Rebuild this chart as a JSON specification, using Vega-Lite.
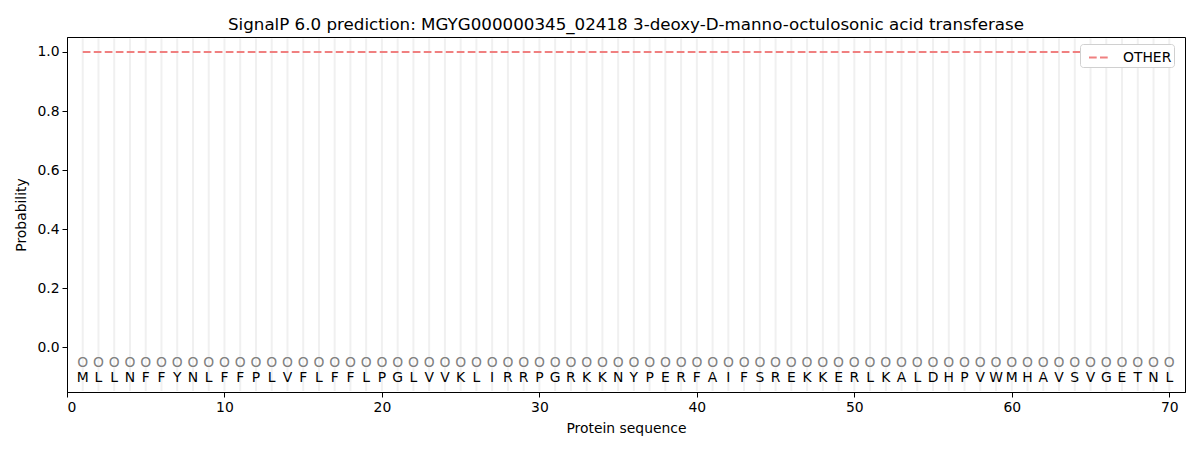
{
  "$schema": "https://vega.github.io/schema/vega-lite/v6.json",
  "autosize": "none",
  "padding": {"left": 67, "top": 37, "right": 15, "bottom": 58},
  "width": 1118,
  "height": 355,
  "background": "white",
  "title": {
    "text": "SignalP 6.0 prediction: MGYG000000345_02418 3-deoxy-D-manno-octulosonic acid transferase",
    "fontSize": 16.7,
    "fontWeight": "normal",
    "font": "DejaVu Sans",
    "color": "black",
    "anchor": "middle",
    "offset": 3
  },
  "config": {
    "view": {"stroke": "black", "strokeWidth": 1},
    "font": "DejaVu Sans",
    "axis": {
      "grid": false,
      "domainColor": "black",
      "tickColor": "black",
      "tickSize": 5,
      "labelFontSize": 13.9,
      "titleFontSize": 13.9,
      "titleFontWeight": "normal",
      "labelColor": "black",
      "titleColor": "black",
      "labelFont": "DejaVu Sans",
      "titleFont": "DejaVu Sans"
    }
  },
  "data": {
    "values": [
      {"pos": 1, "aa": "M", "other": 1.0}, {"pos": 2, "aa": "L", "other": 1.0},
      {"pos": 3, "aa": "L", "other": 1.0}, {"pos": 4, "aa": "N", "other": 1.0},
      {"pos": 5, "aa": "F", "other": 1.0}, {"pos": 6, "aa": "F", "other": 1.0},
      {"pos": 7, "aa": "Y", "other": 1.0}, {"pos": 8, "aa": "N", "other": 1.0},
      {"pos": 9, "aa": "L", "other": 1.0}, {"pos": 10, "aa": "F", "other": 1.0},
      {"pos": 11, "aa": "F", "other": 1.0}, {"pos": 12, "aa": "P", "other": 1.0},
      {"pos": 13, "aa": "L", "other": 1.0}, {"pos": 14, "aa": "V", "other": 1.0},
      {"pos": 15, "aa": "F", "other": 1.0}, {"pos": 16, "aa": "L", "other": 1.0},
      {"pos": 17, "aa": "F", "other": 1.0}, {"pos": 18, "aa": "F", "other": 1.0},
      {"pos": 19, "aa": "L", "other": 1.0}, {"pos": 20, "aa": "P", "other": 1.0},
      {"pos": 21, "aa": "G", "other": 1.0}, {"pos": 22, "aa": "L", "other": 1.0},
      {"pos": 23, "aa": "V", "other": 1.0}, {"pos": 24, "aa": "V", "other": 1.0},
      {"pos": 25, "aa": "K", "other": 1.0}, {"pos": 26, "aa": "L", "other": 1.0},
      {"pos": 27, "aa": "I", "other": 1.0}, {"pos": 28, "aa": "R", "other": 1.0},
      {"pos": 29, "aa": "R", "other": 1.0}, {"pos": 30, "aa": "P", "other": 1.0},
      {"pos": 31, "aa": "G", "other": 1.0}, {"pos": 32, "aa": "R", "other": 1.0},
      {"pos": 33, "aa": "K", "other": 1.0}, {"pos": 34, "aa": "K", "other": 1.0},
      {"pos": 35, "aa": "N", "other": 1.0}, {"pos": 36, "aa": "Y", "other": 1.0},
      {"pos": 37, "aa": "P", "other": 1.0}, {"pos": 38, "aa": "E", "other": 1.0},
      {"pos": 39, "aa": "R", "other": 1.0}, {"pos": 40, "aa": "F", "other": 1.0},
      {"pos": 41, "aa": "A", "other": 1.0}, {"pos": 42, "aa": "I", "other": 1.0},
      {"pos": 43, "aa": "F", "other": 1.0}, {"pos": 44, "aa": "S", "other": 1.0},
      {"pos": 45, "aa": "R", "other": 1.0}, {"pos": 46, "aa": "E", "other": 1.0},
      {"pos": 47, "aa": "K", "other": 1.0}, {"pos": 48, "aa": "K", "other": 1.0},
      {"pos": 49, "aa": "E", "other": 1.0}, {"pos": 50, "aa": "R", "other": 1.0},
      {"pos": 51, "aa": "L", "other": 1.0}, {"pos": 52, "aa": "K", "other": 1.0},
      {"pos": 53, "aa": "A", "other": 1.0}, {"pos": 54, "aa": "L", "other": 1.0},
      {"pos": 55, "aa": "D", "other": 1.0}, {"pos": 56, "aa": "H", "other": 1.0},
      {"pos": 57, "aa": "P", "other": 1.0}, {"pos": 58, "aa": "V", "other": 1.0},
      {"pos": 59, "aa": "W", "other": 1.0}, {"pos": 60, "aa": "M", "other": 1.0},
      {"pos": 61, "aa": "H", "other": 1.0}, {"pos": 62, "aa": "A", "other": 1.0},
      {"pos": 63, "aa": "V", "other": 1.0}, {"pos": 64, "aa": "S", "other": 1.0},
      {"pos": 65, "aa": "V", "other": 1.0}, {"pos": 66, "aa": "G", "other": 1.0},
      {"pos": 67, "aa": "E", "other": 1.0}, {"pos": 68, "aa": "T", "other": 1.0},
      {"pos": 69, "aa": "N", "other": 1.0}, {"pos": 70, "aa": "L", "other": 1.0}
    ]
  },
  "encoding": {
    "x": {
      "field": "pos",
      "type": "quantitative",
      "scale": {"domain": [0, 71], "nice": false, "zero": false},
      "axis": {"values": [0, 10, 20, 30, 40, 50, 60, 70], "title": "Protein sequence", "labelPadding": 3, "titlePadding": 8}
    }
  },
  "layer": [
    {
      "mark": {"type": "rule", "color": "#f0f0f0", "strokeWidth": 2},
      "encoding": {
        "y": {"datum": -0.148, "type": "quantitative"},
        "y2": {"datum": 1.046}
      }
    },
    {
      "mark": {"type": "line", "strokeWidth": 2, "strokeDash": [7.7, 3.3]},
      "encoding": {
        "y": {
          "field": "other",
          "type": "quantitative",
          "scale": {"domain": [-0.1515, 1.0508], "nice": false, "zero": false},
          "axis": {"values": [0, 0.2, 0.4, 0.6, 0.8, 1.0], "format": ".1f", "title": "Probability", "labelPadding": 3, "titlePadding": 8}
        },
        "color": {
          "datum": "OTHER",
          "type": "nominal",
          "scale": {"domain": ["OTHER"], "range": ["#f08080"]},
          "legend": {
            "title": null,
            "orient": "none",
            "legendX": 1013,
            "legendY": 7,
            "symbolType": "stroke",
            "symbolDash": [7.7, 3.3],
            "symbolStrokeWidth": 2,
            "symbolSize": 441,
            "symbolOffset": 6,
            "labelFontSize": 13.9,
            "labelColor": "black",
            "labelFont": "DejaVu Sans",
            "labelOffset": 12,
            "fillColor": "white",
            "strokeColor": "#d0d0d0",
            "cornerRadius": 3,
            "padding": 2
          }
        }
      }
    },
    {
      "mark": {"type": "text", "color": "#808080", "fontSize": 13.9, "baseline": "middle", "font": "DejaVu Sans"},
      "encoding": {
        "y": {"datum": -0.052, "type": "quantitative"},
        "text": {"value": "O"}
      }
    },
    {
      "mark": {"type": "text", "color": "black", "fontSize": 13.9, "baseline": "middle", "font": "DejaVu Sans"},
      "encoding": {
        "y": {"datum": -0.104, "type": "quantitative"},
        "text": {"field": "aa", "type": "nominal"}
      }
    }
  ]
}
